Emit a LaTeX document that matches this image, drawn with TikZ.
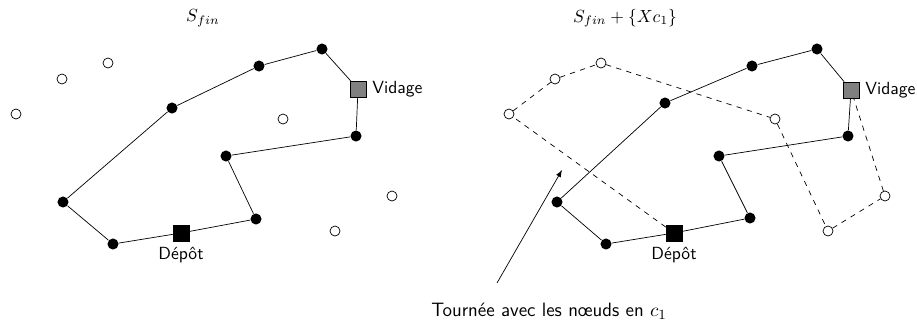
\documentclass[tikz,border=0pt]{standalone}
\usepackage{amsmath}
\usepackage{tikz}
\usetikzlibrary{arrows}
\renewcommand{\familydefault}{\sfdefault}

\begin{document}
\begin{tikzpicture}[pt/.style={circle,fill,inner sep=0pt,minimum size=6.3pt},
    vide/.style={circle,draw,fill=white,inner sep=0pt,minimum size=5.7pt},
    depot/.style={rectangle,draw,fill=black,inner sep=0pt,minimum size=9pt},
    vidage/.style={rectangle,draw,fill=black!50,inner sep=0pt,minimum size=9pt}]
  \useasboundingbox (0,0) rectangle (18.34,6.54);
  % solution S_fin
  \node (t1) at (4.06,6.18) {$S_{fin}$};
  \node[depot,label={below:Dépôt}] (ldep) at (3.62,1.88) {};
  \node[vidage,label={right:Vidage}] (lvid) at (7.16,4.76) {};
  \node[pt] (l1) at (5.12,2.16) {};
  \node[pt] (l2) at (4.52,3.42) {};
  \node[pt] (l3) at (7.12,3.82) {};
  \node[pt] (l4) at (6.44,5.56) {};
  \node[pt] (l5) at (5.18,5.22) {};
  \node[pt] (l6) at (3.44,4.38) {};
  \node[pt] (l7) at (1.26,2.50) {};
  \node[pt] (l8) at (2.26,1.66) {};
  \node[vide] (lw1) at (0.32,4.26) {};
  \node[vide] (lw2) at (1.24,4.96) {};
  \node[vide] (lw3) at (2.16,5.28) {};
  \node[vide] (lw4) at (5.66,4.16) {};
  \node[vide] (lw5) at (6.70,1.92) {};
  \node[vide] (lw6) at (7.84,2.62) {};
  \draw (ldep)--(l1)--(l2)--(l3)--(lvid)--(l4)--(l5)--(l6)--(l7)--(l8)--(ldep);
  % solution S_fin + {Xc_1}
  \node (t2) at (12.50,6.18) {$S_{fin}+\{Xc_1\}$};
  \node[depot,label={below:Dépôt}] (rdep) at (13.48,1.88) {};
  \node[vidage,label={right:Vidage}] (rvid) at (17.02,4.74) {};
  \node[pt] (r1) at (15.00,2.18) {};
  \node[pt] (r2) at (14.38,3.42) {};
  \node[pt] (r3) at (16.96,3.82) {};
  \node[pt] (r4) at (16.34,5.56) {};
  \node[pt] (r5) at (15.04,5.22) {};
  \node[pt] (r6) at (13.30,4.48) {};
  \node[pt] (r7) at (11.14,2.50) {};
  \node[pt] (r8) at (12.12,1.66) {};
  \node[vide] (rw1) at (10.18,4.26) {};
  \node[vide] (rw2) at (11.10,4.96) {};
  \node[vide] (rw3) at (12.02,5.28) {};
  \node[vide] (rw4) at (15.50,4.16) {};
  \node[vide] (rw5) at (16.56,1.92) {};
  \node[vide] (rw6) at (17.70,2.62) {};
  \draw (rdep)--(r1)--(r2)--(r3)--(rvid)--(r4)--(r5)--(r6)--(r7)--(r8)--(rdep);
  \draw[dashed] (rdep)--(rw1)--(rw2)--(rw3)--(rw4)--(rw5)--(rw6)--(rvid);
  % legende
  \node[font=\fontsize{11}{13}\selectfont] (txt) at (10.98,0.32) {Tournée avec les nœuds en $c_1$};
  \coordinate (p) at (9.94,0.88);
  \coordinate (q) at (11.24,3.14);
  \draw[-latex] (p)--(q);
\end{tikzpicture}
\end{document}
